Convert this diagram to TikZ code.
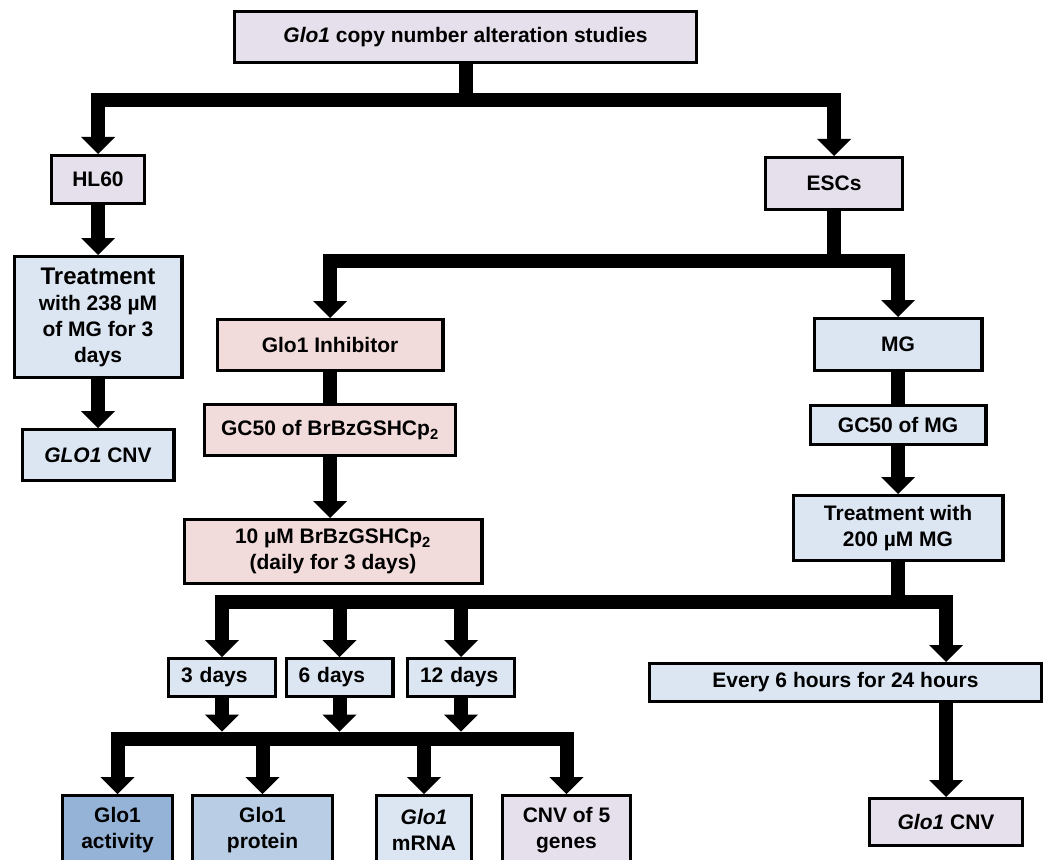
\documentclass[tikz,border=0pt]{standalone}
\usepackage{fontspec}
\setmainfont{Liberation Sans}
\usetikzlibrary{arrows.meta, positioning}

\definecolor{lavbox}{HTML}{E6E0EC}
\definecolor{bluebox}{HTML}{DCE6F2}
\definecolor{pinkbox}{HTML}{F2DCDB}
\definecolor{actbox}{HTML}{95B3D7}
\definecolor{protbox}{HTML}{B9CDE5}

\tikzset{
    box/.style={draw, line width=2.6pt, inner sep=0pt, align=center,
        font=\bfseries\fontsize{15.75}{19.5}\selectfont},
    daybox/.style={box, fill=bluebox, minimum width=79.9pt, minimum height=28.15pt,
        align=left, text width=61.5pt},
    conn/.style={line width=10.5pt},
    arr/.style={conn, -{Triangle[length=12.75pt, width=25.5pt, line width=0pt]}}
}

\begin{document}
\begin{tikzpicture}[x=0.75pt, y=-0.75pt]
    \useasboundingbox (0,0) rectangle (1044,859);

    % Top box
    \node[box, fill=lavbox, minimum width=346.15pt, minimum height=37.9pt] (title) at (465.5,37)
        {\textit{Glo1} copy number alteration studies};

    % Cell lines
    \node[box, fill=lavbox, minimum width=69.4pt, minimum height=35.65pt] (hl60) at (98,179.5) {HL60};
    \node[box, fill=lavbox, minimum width=102.4pt, minimum height=38.65pt] (esc) at (834,183.5) {ESCs};

    % HL60 branch
    \node[box, fill=bluebox, minimum width=125.65pt, minimum height=90.4pt] (treat238) at (98,317)
        {{\fontsize{18}{20}\selectfont Treatment}\\with 238 µM\\of MG for 3\\days};
    \node[box, fill=bluebox, minimum width=113.65pt, minimum height=37.9pt] (cnvleft) at (98,455)
        {\textit{GLO1} CNV};

    % Inhibitor branch
    \node[box, fill=pinkbox, minimum width=169.15pt, minimum height=37.9pt] (inhib) at (330,345) {Glo1 Inhibitor};
    \node[box, fill=pinkbox, minimum width=187.9pt, minimum height=37.9pt] (gcbr) at (330,430)
        {GC50 of BrBzGSHCp\textsubscript{2}};
    \node[box, fill=pinkbox, minimum width=223.15pt, minimum height=47.65pt] (br10) at (333,551.5)
        {10 µM BrBzGSHCp\textsubscript{2}\\(daily for 3 days)};

    % MG branch
    \node[box, fill=bluebox, minimum width=125.65pt, minimum height=38.65pt] (mg) at (898,344.5) {MG};
    \node[box, fill=bluebox, minimum width=131.65pt, minimum height=28.9pt] (gcmg) at (898,425) {GC50 of MG};
    \node[box, fill=bluebox, minimum width=157.15pt, minimum height=48.4pt] (t200) at (898,528)
        {Treatment with\\200 µM MG};

    % Time points
    \node[daybox] (d3) at (222,677.5) {3 days};
    \node[daybox] (d6) at (339.5,677.5) {6 days};
    \node[daybox] (d12) at (461,677.5) {12 days};
    \node[box, fill=bluebox, minimum width=293.65pt, minimum height=28.15pt] (ev) at (845.5,682.5)
        {Every 6 hours for 24 hours};

    % Read-outs
    \node[box, fill=actbox, minimum width=82.15pt, minimum height=51.4pt] (act) at (117.5,830) {Glo1\\activity};
    \node[box, fill=protbox, minimum width=104.65pt, minimum height=51.4pt] (prot) at (262.5,830) {Glo1\\protein};
    \node[box, fill=bluebox, minimum width=70.9pt, minimum height=51.4pt] (mrna) at (424,830) {\textit{Glo1}\\mRNA};
    \node[box, fill=lavbox, minimum width=95.65pt, minimum height=51.4pt] (cnv5) at (566.5,830) {CNV of 5\\genes};
    \node[box, fill=lavbox, minimum width=114.4pt, minimum height=34.9pt] (cnvright) at (946,822)
        {\textit{Glo1} CNV};

    % Split points
    \coordinate (topsplit) at (465.5,100);
    \coordinate (escsplit) at (834,260.5);
    \coordinate (mgsplit) at (898,601.5);
    \coordinate (hub) at (340,738.5);
    \coordinate (hubtop) at (340,731.5);

    % Connectors
    \draw[arr] (title.south) -- (topsplit) -| (hl60.north);
    \draw[arr] (title.south) -- (topsplit) -| (esc.north);
    \draw[arr] (hl60) -- (treat238);
    \draw[arr] (treat238) -- (cnvleft);

    \draw[arr] (esc.south) -- (escsplit) -| (inhib.north);
    \draw[arr] (esc.south) -- (escsplit) -| (mg.north);
    \draw[conn] (inhib) -- (gcbr);
    \draw[arr] (gcbr.south) -- (gcbr.south |- br10.north);
    \draw[conn] (mg) -- (gcmg);
    \draw[arr] (gcmg) -- (t200);

    \foreach \d in {d3, d6, d12} {
        \draw[arr] (t200.south) -- (mgsplit) -| (\d.north);
        \draw[arr] (\d.south) -- (\d.south |- hubtop);
    }
    \draw[arr] (t200.south) -- (mgsplit) -| (ev.north -| cnvright.north);
    \draw[arr] (ev.south -| cnvright.north) -- (cnvright.north);

    \foreach \b in {act, prot, mrna, cnv5} {
        \draw[arr] (hub) -| (\b.north);
    }
\end{tikzpicture}
\end{document}
